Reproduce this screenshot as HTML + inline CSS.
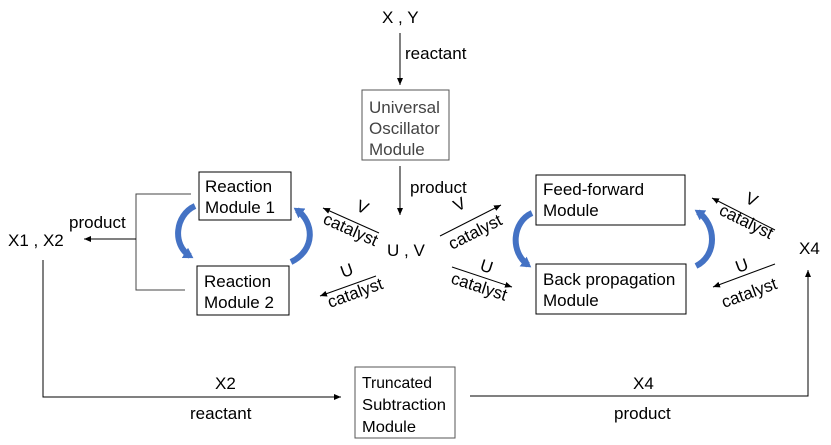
<!DOCTYPE html>
<html><head><style>
body{margin:0;background:#fff;}
svg{display:block;font-family:"Liberation Sans",Arial,sans-serif;}
</style></head><body>
<svg width="831" height="445" viewBox="0 0 831 445">
<defs>
<marker id="a" markerWidth="8" markerHeight="8" refX="7" refY="4" orient="auto" markerUnits="userSpaceOnUse"><path d="M0,1 L7,4 L0,7 z" fill="#000"/></marker>
<marker id="b" markerWidth="12" markerHeight="12" refX="6" refY="6" orient="auto" markerUnits="userSpaceOnUse"><path d="M0,0 L10,6 L0,12 z" fill="#4472c4"/></marker>
</defs>
<g font-size="17" fill="#000">
<text x="382" y="23">X , Y</text>
<text x="405" y="59">reactant</text>
<text x="410" y="193">product</text>
<text x="387" y="256">U , V</text>
<text x="8" y="246">X1 , X2</text>
<text x="69" y="228">product</text>
<text x="799" y="254">X4</text>
<text x="215" y="389">X2</text>
<text x="190" y="419">reactant</text>
<text x="633" y="389">X4</text>
<text x="614" y="419">product</text>
</g>
<g stroke="#000" fill="none" stroke-width="1">
<line x1="400" y1="33" x2="400" y2="85" marker-end="url(#a)"/>
<line x1="400" y1="166" x2="400" y2="215" marker-end="url(#a)"/>
<rect x="362" y="90" width="87" height="70" stroke="#555"/>
<rect x="199" y="172" width="92" height="48"/>
<rect x="197" y="266" width="92" height="49"/>
<rect x="536" y="175" width="149" height="50"/>
<rect x="536" y="264" width="150" height="50"/>
<rect x="355" y="367" width="100" height="71" stroke="#555"/>
<polyline points="191,194 136,194 136,290 185,290" stroke="#444"/>
<line x1="136" y1="239" x2="84" y2="239" marker-end="url(#a)"/>
<polyline points="43,260 43,397 341,397" marker-end="url(#a)"/>
<polyline points="470,396 808,396 808,270" marker-end="url(#a)"/>
<line x1="379" y1="233" x2="323" y2="208" marker-end="url(#a)"/>
<line x1="376" y1="276" x2="320" y2="296" marker-end="url(#a)"/>
<line x1="440" y1="236" x2="501" y2="205" marker-end="url(#a)"/>
<line x1="452" y1="267" x2="512" y2="287" marker-end="url(#a)"/>
<line x1="775" y1="230" x2="712" y2="198" marker-end="url(#a)"/>
<line x1="775" y1="264" x2="713" y2="287" marker-end="url(#a)"/>
</g>
<g font-size="17" fill="#000">
<text x="205" y="192">Reaction</text><text x="205" y="213">Module 1</text>
<text x="204" y="287">Reaction</text><text x="204" y="308">Module 2</text>
<text x="543" y="195">Feed-forward</text><text x="543" y="216">Module</text>
<text x="543" y="285">Back propagation</text><text x="543" y="306">Module</text>
<text x="369" y="113" fill="#444">Universal</text><text x="369" y="134" fill="#444">Oscillator</text><text x="369" y="155" fill="#444">Module</text>
<text x="362" y="388" font-size="16" textLength="70" lengthAdjust="spacingAndGlyphs">Truncated</text>
<text x="362" y="410" font-size="16" textLength="84" lengthAdjust="spacingAndGlyphs">Subtraction</text>
<text x="362" y="432" font-size="16" textLength="54" lengthAdjust="spacingAndGlyphs">Module</text>
<text transform="translate(355,210) rotate(24)">V</text>
<text transform="translate(322,223) rotate(24)">catalyst</text>
<text transform="translate(343,278) rotate(-20)">U</text>
<text transform="translate(330,308) rotate(-20)">catalyst</text>
<text transform="translate(457,212) rotate(-27)">V</text>
<text transform="translate(452,250) rotate(-27)">catalyst</text>
<text transform="translate(479,270) rotate(18)">U</text>
<text transform="translate(450,283) rotate(18)">catalyst</text>
<text transform="translate(744,202) rotate(26)">V</text>
<text transform="translate(718,214) rotate(26)">catalyst</text>
<text transform="translate(738,273) rotate(-20)">U</text>
<text transform="translate(724,308) rotate(-20)">catalyst</text>
</g>
<g stroke="#4472c4" stroke-width="6" fill="none">
<path d="M195,206 C175,215 172,245 190,256" marker-end="url(#b)"/>
<path d="M291,262 C316,250 314,222 297,210" marker-end="url(#b)"/>
<path d="M532,213 C512,222 510,252 528,265" marker-end="url(#b)"/>
<path d="M696,266 C718,255 716,224 698,212" marker-end="url(#b)"/>
</g>
</svg>
</body></html>
